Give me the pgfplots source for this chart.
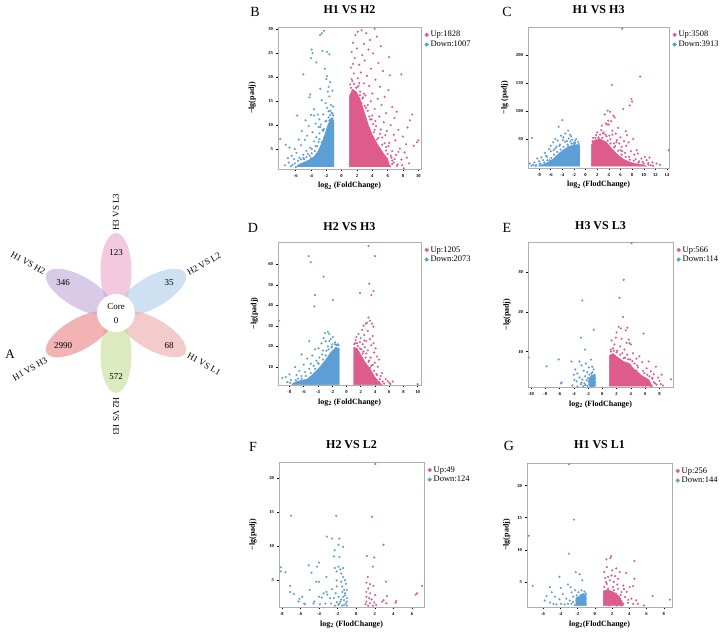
\documentclass[border=0pt]{standalone}
\usepackage{fontspec}
\setmainfont{Liberation Serif}
\usepackage{pgfplots}
\pgfplotsset{compat=1.18}
\definecolor{pinkc}{RGB}{221,92,140}
\definecolor{bluec}{RGB}{92,158,214}
\definecolor{axgray}{RGB}{175,175,175}
\definecolor{ptop}{RGB}{233,165,200}
\definecolor{pur}{RGB}{172,205,235}
\definecolor{plr}{RGB}{236,168,168}
\definecolor{pbot}{RGB}{195,222,148}
\definecolor{pll}{RGB}{232,128,128}
\definecolor{pul}{RGB}{192,168,216}
\pgfplotsset{
 volc/.style={scale only axis, axis line style={draw=axgray, line width=0.8pt},
  tick align=outside, xtick pos=bottom, ytick pos=left, major tick length=1.6pt,
  tick style={black,line width=0.4pt},
  tick label style={font=\fontsize{4.6}{5}\selectfont\bfseries},
  /pgf/number format/assume math mode=true,
  label style={font=\fontsize{8}{9}\selectfont\bfseries},
  xlabel style={at={(axis description cs:0.5,-0.12)}, anchor=center},
  title style={font=\fontsize{12}{14}\selectfont\bfseries, anchor=center, yshift=-6pt},
  legend style={draw=none, fill=none, at={(axis description cs:1.025,0.985)}, anchor=north west,
   inner sep=0pt, font=\fontsize{8.5}{9}\selectfont, row sep=-1.5pt},
  legend cell align=left,
  legend image code/.code={\draw[##1, mark size=1.9pt] plot coordinates {(0.1cm,0cm)};},
 },
 up/.style={only marks, mark=*, mark size=0.85pt, color=pinkc},
 dn/.style={only marks, mark=*, mark size=0.85pt, color=bluec},
 upa/.style={fill=pinkc, draw=pinkc, forget plot},
 dna/.style={fill=bluec, draw=bluec, forget plot},
}
\begin{document}
\begin{tikzpicture}
\path[use as bounding box] (0pt,0pt) rectangle (725pt,-633pt);
% ---------- A: flower ----------
\begin{axis}[hide axis, scale only axis, width=240pt, height=240pt, xmin=0, xmax=240, ymin=-440, ymax=-200,
  at={(0pt,-440pt)}, anchor=south west, clip=false]
\fill[ptop, fill opacity=0.6, shift={(axis cs:116,-313)}, rotate=90] (42pt,0pt) ellipse [x radius=38pt, y radius=15.5pt];
\fill[pur, fill opacity=0.6, shift={(axis cs:116,-313)}, rotate=30] (42pt,0pt) ellipse [x radius=38pt, y radius=15.5pt];
\fill[plr, fill opacity=0.6, shift={(axis cs:116,-313)}, rotate=-30] (42pt,0pt) ellipse [x radius=38pt, y radius=15.5pt];
\fill[pbot, fill opacity=0.6, shift={(axis cs:116,-313)}, rotate=-90] (42pt,0pt) ellipse [x radius=38pt, y radius=15.5pt];
\fill[pll, fill opacity=0.6, shift={(axis cs:116,-313)}, rotate=-150] (42pt,0pt) ellipse [x radius=38pt, y radius=15.5pt];
\fill[pul, fill opacity=0.6, shift={(axis cs:116,-313)}, rotate=150] (42pt,0pt) ellipse [x radius=38pt, y radius=15.5pt];
\fill[white] (axis cs:116,-313) circle [radius=19pt];
\begin{scope}[every node/.style={font=\fontsize{9}{10}\selectfont, inner sep=1pt}]
\node at (axis cs:116,-307) {Core};
\node at (axis cs:116,-321) {0};
\node at (axis cs:116,-253) {123};
\node at (axis cs:169,-283) {35};
\node at (axis cs:169,-346) {68};
\node at (axis cs:116,-377) {572};
\node at (axis cs:63,-346) {2990};
\node at (axis cs:63,-283) {346};
\node[rotate=90] at (axis cs:116,-212) {H3 VS L3};
\node[rotate=30] at (axis cs:204,-264) {H2 VS L2};
\node[rotate=-30] at (axis cs:204,-364) {H1 VS L1};
\node[rotate=-90] at (axis cs:116,-416) {H2 VS H3};
\node[rotate=30] at (axis cs:30,-369) {H1 VS H3};
\node[rotate=-30] at (axis cs:28,-263) {H1 VS H2};
\end{scope}
\end{axis}
\node[font=\fontsize{13}{15}\selectfont] at (10pt,-354pt) {A};
% ---------- panel letters ----------
\begin{scope}[every node/.style={font=\fontsize{14}{16}\selectfont}]
\node at (255pt,-12pt) {B};
\node at (507pt,-12pt) {C};
\node at (253pt,-228pt) {D};
\node at (507pt,-228pt) {E};
\node at (253pt,-447pt) {F};
\node at (509pt,-446pt) {G};
\end{scope}
% ---------- B ----------
\begin{axis}[volc, at={(278pt,-27pt)}, anchor=north west, width=143pt, height=142pt,
  xmin=-8.3, xmax=10.35, ymin=0.83, ymax=30.5, xtick={-6,-4,-2,0,2,4,6,8,10}, ytick={5,10,15,20,25,30},
  title={H1 VS H2}, title style={at={(axis description cs:0.5,1.123)}},
  xlabel={log\textsubscript{2} (FoldChange)}, ylabel={−lg(padj)},
  ylabel style={at={(axis description cs:-0.18,0.5)}, anchor=center}]
\addplot[dna] coordinates {(-1,1.3) (-1,11) (-1.4,11.5) (-1.8,10) (-2.2,8) (-2.6,6.2) (-3.1,4.5) (-3.6,3.4) (-4.3,2.7) (-5.0,2.2) (-5.6,1.8) (-5.9,1.3)} -- cycle;
\addplot[upa] coordinates {(1,1.3) (1,16) (1.4,17.5) (1.9,17) (2.4,15.5) (3,12.5) (3.5,10) (4,8) (4.5,6.5) (5,5.2) (5.5,4) (6,3) (6.3,1.3)} -- cycle;
\addplot[up] coordinates {(2.6,29.8) (4.3,30.1) (2.1,29.5) (3.2,29.2) (1.8,28.8) (4.6,28.5) (3.7,27.8) (1.5,27.2) (2.9,27.0) (5.1,26.5) (2.0,26.0) (3.5,25.8) (1.3,25.3) (4.1,25.0) (2.7,24.6) (6.2,24.2) (1.7,24.0) (3.0,23.5) (4.8,23.0) (2.3,22.6) (1.2,22.0) (3.8,21.8) (2.5,21.0) (5.4,21.3) (1.6,20.8) (7.8,20.6) (3.3,20.3) (6.3,20.4) (2.1,19.8) (4.4,19.5) (1.4,19.2) (2.9,18.7) (3.6,18.2) (5.0,18.0) (1.9,17.8) (6.1,17.3) (2.4,17.0) (4.0,16.6) (3.1,16.2) (5.6,15.9) (4.7,15.5) (3.8,15.0) (2.6,14.6) (5.2,14.2) (6.6,13.8) (4.3,13.4) (3.4,13.0) (7.2,12.8) (5.8,12.5) (9.2,12.2) (4.9,11.8) (6.9,11.5) (8.9,11.0) (3.9,11.2) (5.5,10.6) (6.4,10.0) (4.5,9.8) (8.6,9.5) (7.4,9.0) (5.9,8.8) (4.2,8.5) (6.8,8.0) (8.0,7.6) (5.3,7.4) (7.0,6.8) (9.8,6.4) (6.2,6.3) (8.4,6.0) (9.4,5.7) (5.8,5.4) (7.6,5.1) (6.6,4.6) (8.2,4.3) (7.1,3.8) (6.5,3.2) (7.8,2.8) (7.9,1.6) (6.8,2.2) (5.9,2.0) (6.3,1.4) (7.3,1.8) (8.1,1.0) (10.0,6.8) (4.6,7.0) (3.3,10.5) (2.0,12.8) (1.3,14.5) (2.8,15.8) (1.8,13.5) (3.6,11.8) (4.1,10.2) (5.0,8.2) (5.6,6.2) (2.4,16.3) (1.1,18.5) (2.2,18.2) (3.0,14.0) (1.5,22.8) (4.0,12.0) (6.0,4.0) (6.6,2.6) (5.4,3.4)
 (1.2,17.8) (1.6,18.6) (2.0,17.9) (2.7,15.6) (3.2,13.6) (3.7,11.2) (4.3,9.0) (4.8,7.3) (5.3,5.9) (5.8,4.7) (6.4,3.6) (6.9,2.9) (7.2,1.5) (6.6,1.9) (2.3,18.8) (1.3,19.6) (2.9,16.6) (3.4,14.2) (4.4,10.9) (5.1,9.1) (6.1,5.6) (7.4,4.4) (8.5,3.2) (8.8,2.0) (5.7,7.9)};
\addplot[dn] coordinates {(-2.3,29.7) (-2.6,29.2) (-2.8,28.8) (-3.9,25.8) (-2.5,25.5) (-1.9,25.3) (-1.6,24.8) (-3.8,25.0) (-3.3,23.1) (-4.0,24.0) (-2.2,21.8) (-5.0,20.6) (-1.9,20.2) (-2.0,19.6) (-1.5,19.0) (-1.7,18.0) (-2.8,17.6) (-1.2,17.2) (-1.8,17.0) (-4.1,16.4) (-4.2,15.8) (-1.6,16.0) (-2.6,15.2) (-2.1,14.6) (-1.4,14.2) (-1.9,13.6) (-1.1,13.9) (-3.6,13.3) (-1.5,13.0) (-1.3,12.6) (-2.4,12.2) (-3.1,12.2) (-4.0,12.1) (-5.8,12.0) (-3.6,12.0) (-1.7,11.6) (-2.9,11.2) (-1.2,11.4) (-4.7,11.0) (-2.1,10.8) (-3.4,10.3) (-2.7,10.1) (-4.3,9.8) (-3.0,9.6) (-1.8,9.7) (-2.3,9.2) (-5.2,8.8) (-3.8,8.5) (-2.9,8.3) (-4.5,7.8) (-3.3,7.5) (-5.6,7.0) (-4.8,6.9) (-3.6,6.6) (-8.0,7.1) (-7.3,5.9) (-6.8,5.3) (-6.1,5.0) (-5.3,5.8) (-4.1,5.3) (-4.6,4.6) (-5.9,4.2) (-6.5,3.6) (-7.0,3.1) (-5.0,3.8) (-4.2,3.6) (-6.2,2.9) (-6.9,2.2) (-5.7,2.5) (-6.4,1.7) (-7.4,1.6) (-5.2,1.4) (-6.0,1.2) (-3.9,5.0) (-3.2,5.6) (-2.6,6.4) (-2.0,8.2) (-1.4,9.5) (-1.1,10.3) (-1.6,11.0) (-2.4,8.8) (-3.0,6.5) (-4.4,4.0) (-4.9,2.9) (-5.5,3.2)
 (-1.2,12.4) (-1.5,12.1) (-2.0,10.9) (-2.5,9.0) (-2.9,7.1) (-3.4,5.6) (-3.9,4.1) (-4.6,3.3) (-5.3,2.8) (-6.1,2.0) (-6.6,1.4) (-1.3,10.8) (-1.9,9.1) (-2.3,7.4) (-3.5,4.6) (-4.0,3.1) (-5.0,3.1) (-1.1,12.0) (-1.7,12.9) (-2.8,9.6)};
\legend{Up:1828, Down:1007}
\end{axis}
% ---------- C ----------
\begin{axis}[volc, at={(528pt,-27pt)}, anchor=north west, width=141pt, height=141pt,
  xmin=-9.9, xmax=14.35, ymin=-2, ymax=251, xtick={-8,-6,-4,-2,0,2,4,6,8,10,12,14}, ytick={50,100,150,200},
  title={H1 VS H3}, title style={at={(axis description cs:0.5,1.12)}},
  xlabel={log\textsubscript{2} (FlodChange)}, ylabel={−lg (padj)},
  ylabel style={at={(axis description cs:-0.165,0.5)}, anchor=center}]
\addplot[dna] coordinates {(-1,1.3) (-1,38) (-1.5,40) (-2.5,38) (-3.5,33) (-4.5,25) (-5.5,15) (-6.5,8) (-7.5,4) (-8.2,1.3)} -- cycle;
\addplot[upa] coordinates {(1,1.3) (1,40) (1.5,48) (2.5,50) (3.5,45) (4.5,33) (5.5,22) (6.5,14) (7.5,9) (8.5,6) (10,3.5) (10.5,1.3)} -- cycle;
\addplot[up] coordinates {(6.3,248) (9.4,162) (4.5,147) (7.9,122) (8.0,117) (7.6,110) (6.5,104) (3.8,101) (4.2,99) (3.3,94) (4.8,92) (5.0,89) (3.9,83) (4.4,82) (3.5,78) (3.7,76) (4.0,76) (2.8,74) (5.6,70) (4.6,65) (6.9,64) (3.1,62) (5.2,60) (2.5,58) (7.1,57) (4.1,56) (6.0,53) (3.6,55) (8.2,50) (5.4,48) (6.6,46) (7.4,44) (2.2,53) (5.8,42) (7.0,38) (6.2,36) (8.8,30) (7.8,28) (9.0,24) (8.4,22) (10.2,18) (9.6,15) (11.0,17) (10.5,12) (9.2,10) (11.5,8) (12.2,6) (10.8,7) (14.3,30) (12.8,4) (3.0,60) (1.8,57) (1.3,52) (4.3,50) (5.1,37) (6.8,25) (7.5,18) (8.6,14) (9.8,9) (11.2,3) (9.0,4) (4.9,42) (6.3,28)
 (1.2,46) (1.7,52) (2.3,50) (2.9,52) (3.8,47) (4.3,42) (4.9,35) (5.6,29) (6.2,22) (6.9,18) (7.6,13) (8.3,11) (9.1,8) (10.0,6) (10.8,4) (11.6,2) (2.0,62) (2.7,66) (3.4,58) (4.6,58) (5.3,44) (6.0,30)};
\addplot[dn] coordinates {(-9.2,52) (-4.0,84) (-4.6,72) (-3.0,65) (-3.5,60) (-2.7,58) (-4.2,56) (-3.8,53) (-5.2,50) (-2.3,49) (-4.8,47) (-3.2,46) (-5.6,44) (-2.0,43) (-6.0,38) (-4.4,40) (-5.0,36) (-6.3,32) (-7.0,25) (-6.8,20) (-7.6,17) (-8.3,15) (-8.0,10) (-7.3,12) (-8.8,8) (-9.0,4) (-9.6,6) (-8.5,3) (-6.0,28) (-5.5,30) (-3.5,45) (-2.9,51) (-1.8,47) (-1.3,45) (-2.5,55) (-3.9,48) (-4.5,38) (-5.2,33) (-6.6,18) (-7.8,6) (-9.3,2) (-3.1,40) (-2.0,40) (-6.2,12)
 (-1.2,41) (-1.8,43) (-2.4,42) (-3.0,37) (-3.8,36) (-4.3,31) (-4.9,27) (-5.4,22) (-5.9,16) (-6.6,12) (-7.1,8) (-7.8,5) (-8.6,2) (-1.6,50) (-2.6,46)};
\legend{Up:3508, Down:3913}
\end{axis}
% ---------- D ----------
\begin{axis}[volc, at={(278pt,-242pt)}, anchor=north west, width=143pt, height=143pt,
  xmin=-9.6, xmax=10.47, ymin=1.1, ymax=70.9, xtick={-8,-6,-4,-2,0,2,4,6,8,10}, ytick={10,20,30,40,50,60},
  title={H2 VS H3}, title style={at={(axis description cs:0.5,1.105)}},
  xlabel={log\textsubscript{2} (FoldChange)}, ylabel={−lg(padj)},
  ylabel style={at={(axis description cs:-0.165,0.5)}, anchor=center}]
\addplot[dna] coordinates {(-1,1.3) (-1,19) (-1.5,19.5) (-2.2,17) (-3,13) (-3.7,10) (-4.5,7) (-5.5,4) (-6.8,3) (-7.5,2) (-7.6,1.3)} -- cycle;
\addplot[upa] coordinates {(1,1.3) (1,19.5) (1.5,19) (2,16) (2.5,13) (3,10.5) (3.5,8) (4,5) (4.5,3) (5,1.3)} -- cycle;
\addplot[up] coordinates {(3.1,69) (4.0,64) (3.2,50.5) (3.8,47) (1.9,46) (3.5,45) (3.1,34) (3.3,32.5) (2.9,31.5) (2.7,31) (3.6,31) (2.4,30) (3.8,29.5) (2.2,28) (3.0,27.5) (1.7,26) (2.5,25.5) (3.7,25) (1.4,24.5) (2.0,24) (3.3,23.5) (2.8,22.5) (1.9,22) (3.8,21.5) (2.3,21) (3.5,20.5) (1.6,20) (2.6,19.5) (4.1,19) (3.0,18) (3.9,17) (4.3,15) (2.8,16.5) (3.4,14.5) (4.6,13.5) (4.0,12) (3.7,11) (4.4,10) (5.0,7) (4.8,5.5) (5.5,4) (4.2,6.5) (5.8,3) (4.6,2.5) (5.3,1.8) (6.0,2.2) (6.5,2.8) (6.2,1.6) (10.0,1.5) (3.2,13) (2.1,18.5) (1.2,21.5) (2.4,17.5) (3.3,9.5)
 (1.1,21) (1.5,21.5) (1.9,19) (2.3,16.5) (2.7,14.5) (3.1,12.5) (3.5,10.5) (3.9,8) (4.3,6) (4.7,4) (5.1,2.8) (1.3,23) (2.5,22.8)};
\addplot[dn] coordinates {(-5.3,64) (-5.0,61) (-3.2,54) (-4.4,45) (-1.9,42.5) (-4.5,39.5) (-9.5,32.5) (-2.6,27) (-3.0,26.5) (-2.4,26) (-1.9,24.5) (-3.2,24) (-2.2,23.5) (-2.9,22.5) (-5.2,22.5) (-1.6,22) (-3.5,21.5) (-2.0,21) (-1.4,20.5) (-2.6,20) (-3.9,19) (-4.4,18.5) (-3.3,18) (-2.8,17.8) (-6.3,16) (-4.8,15.5) (-5.5,14) (-3.8,14.5) (-4.2,13) (-7.2,9.8) (-6.0,11) (-5.0,11.5) (-6.6,8) (-5.8,7.5) (-8.0,6.3) (-7.0,6) (-6.3,5.5) (-8.5,5) (-8.3,2.5) (-7.8,3.5) (-9.0,4.5) (-5.2,9) (-4.6,10.5) (-3.4,16) (-2.1,19.5) (-1.2,21) (-4.0,11.8) (-6.8,4.2)
 (-1.1,20.5) (-1.6,21) (-2.0,19.8) (-2.5,18.5) (-2.9,15.5) (-3.3,13.5) (-3.9,11.5) (-4.4,9) (-5.0,7) (-5.7,5.5) (-6.3,4.2) (-7.1,3.4) (-7.9,2.2) (-2.4,22.5)};
\legend{Up:1205, Down:2073}
\end{axis}
% ---------- E ----------
\begin{axis}[volc, at={(528pt,-242pt)}, anchor=north west, width=145pt, height=145pt,
  xmin=-10.4, xmax=9.9, ymin=1.1, ymax=37.5, xtick={-10,-8,-6,-4,-2,0,2,4,6,8}, ytick={10,20,30},
  title={H3 VS L3}, title style={at={(axis description cs:0.5,1.11)}},
  xlabel={log\textsubscript{2} (FlodChange)}, ylabel={−lg(padj)},
  ylabel style={at={(axis description cs:-0.145,0.5)}, anchor=center}]
\addplot[dna] coordinates {(-1.9,1.3) (-1.9,3.0) (-1.5,4.0) (-1,4.3) (-1,1.3)} -- cycle;
\addplot[upa] coordinates {(1,1.3) (1,9) (1.5,9.5) (2.2,8.5) (3,7.5) (3.8,7) (4.5,5.5) (5.5,4) (6.5,3) (7,1.3)} -- cycle;
\addplot[up] coordinates {(4.1,37.2) (3.0,28) (2.4,23.5) (2.9,18.7) (2.3,16.2) (3.5,16.0) (2.6,15.8) (3.3,15.3) (2.0,14.8) (5.8,14.5) (1.9,13.5) (2.7,13.2) (3.7,13.0) (1.3,12.8) (3.4,12.2) (3.8,12.1) (1.7,11.8) (2.5,11.3) (4.0,11.8) (1.5,10.8) (3.1,10.5) (2.1,10.2) (4.3,9.6) (3.5,9.2) (5.2,8.8) (4.8,8.2) (6.5,7.5) (5.6,7.3) (4.5,7.0) (7.5,6.2) (6.2,5.8) (5.0,6.0) (6.8,5.0) (7.2,4.3) (8.3,4.2) (5.9,4.6) (7.8,3.5) (6.6,3.8) (8.0,2.6) (7.2,2.3) (9.6,3.0) (8.5,1.5) (6.0,1.5) (7.6,1.7) (5.3,2.2) (6.9,1.3) (4.8,5.2) (3.9,8.0) (2.8,9.6) (1.2,10.0) (4.6,3.8) (5.5,3.0) (3.2,8.5) (6.3,2.4) (7.0,3.2) (5.0,4.5)
 (1.2,10.5) (1.6,10.2) (2.0,9.8) (2.5,9.2) (3.0,8.3) (3.6,8.1) (4.2,7.6) (4.9,6.5) (5.7,5.2) (6.3,4.2) (7.0,3.4) (7.4,2.0) (8.2,1.8)};
\addplot[dn] coordinates {(-2.8,22.8) (-1.2,15.5) (-3.0,13.5) (-2.4,10.5) (-10.3,8.5) (-6.1,8.0) (-7.8,6.3) (-4.3,7.5) (-3.2,7.5) (-2.3,7.0) (-1.6,8.0) (-2.9,6.5) (-1.9,6.0) (-1.4,6.2) (-3.8,5.5) (-2.6,5.2) (-1.2,5.5) (-3.5,4.5) (-2.1,4.8) (-1.5,4.5) (-4.0,4.2) (-1.8,4.2) (-1.1,4.0) (-2.4,3.8) (-3.2,3.5) (-1.3,3.6) (-1.7,3.4) (-2.8,3.0) (-1.0,3.2) (-1.5,3.0) (-2.2,2.8) (-3.6,2.5) (-1.2,2.6) (-1.9,2.4) (-5.7,2.2) (-5.8,2.0) (-2.5,2.0) (-1.4,2.1) (-1.1,1.9) (-3.0,1.8) (-1.7,1.7) (-4.2,1.5) (-2.1,1.4) (-1.3,1.3) (-2.7,1.3) (-1.6,1.2) (-3.5,1.2) (-1.0,1.5) (-1.8,2.8) (-1.2,3.0) (-2.0,3.3) (-1.5,3.8) (-1.0,2.3) (-1.3,1.7) (-2.4,1.6) (-1.7,2.2) (-1.1,3.6) (-2.9,2.2) (-1.4,4.8) (-3.9,2.9)};
\legend{Up:566, Down:114}
\end{axis}
% ---------- F ----------
\begin{axis}[volc, at={(279pt,-462pt)}, anchor=north west, width=145pt, height=145pt,
  xmin=-8.3, xmax=7.3, ymin=1.1, ymax=22.3, xtick={-8,-6,-4,-2,0,2,4,6}, ytick={5,10,15,20},
  title={H2 VS L2}, title style={at={(axis description cs:0.5,1.117)}},
  xlabel={log\textsubscript{2} (FlodChange)}, ylabel={−lg(padj)},
  ylabel style={at={(axis description cs:-0.18,0.5)}, anchor=center}]
\addplot[up] coordinates {(2.05,22.0) (1.7,14.3) (2.95,10.2) (1.15,8.55) (1.95,8.35) (1.8,7.0) (1.25,5.5) (1.1,4.65) (1.5,4.45) (3.2,4.8) (1.3,3.8) (1.85,4.2) (1.1,3.3) (1.5,3.1) (2.05,2.85) (1.1,2.6) (1.65,2.2) (3.3,2.7) (2.95,2.1) (3.25,1.65) (4.3,2.0) (4.25,1.75) (1.1,1.9) (1.5,1.65) (1.95,1.75) (1.3,1.3) (1.8,1.3) (2.15,1.4) (1.0,1.5) (6.4,2.9) (6.55,3.1) (7.1,4.2) (2.8,1.9) (1.4,2.4)};
\addplot[dn] coordinates {(-7.0,14.45) (-2.15,14.45) (-3.15,11.4) (-2.6,11.1) (-1.8,11.1) (-1.9,10.2) (-1.4,9.9) (-2.3,9.4) (-2.4,8.5) (-1.8,8.4) (-8.1,6.9) (-8.1,6.3) (-7.6,6.2) (-5.1,7.2) (-4.2,7.0) (-4.0,7.6) (-4.8,6.1) (-2.3,6.8) (-1.9,7.0) (-1.7,6.6) (-1.4,6.8) (-2.1,6.3) (-1.6,6.0) (-3.2,5.5) (-1.4,5.5) (-2.1,5.0) (-1.6,4.8) (-1.2,5.0) (-4.3,4.8) (-4.0,4.8) (-5.0,3.6) (-7.1,4.2) (-7.1,3.3) (-6.7,3.0) (-5.8,2.6) (-6.1,2.3) (-6.2,1.9) (-5.6,1.6) (-5.5,1.5) (-4.6,1.6) (-4.5,1.9) (-3.9,1.5) (-3.7,2.5) (-3.5,3.1) (-3.2,3.3) (-3.1,2.9) (-2.6,3.7) (-2.8,2.4) (-2.7,1.6) (-2.4,2.4) (-3.3,1.6) (-2.2,3.1) (-2.1,4.1) (-1.9,2.6) (-1.7,1.9) (-1.5,3.3) (-1.4,2.6) (-1.3,2.1) (-1.2,3.1) (-1.1,1.6) (-1.0,3.6) (-1.9,1.4) (-1.5,1.3) (-1.3,1.4) (-2.1,1.8) (-2.3,1.3) (-1.0,2.4) (-1.1,4.5) (-1.5,4.1) (-4.0,2.6) (-1.2,2.8) (-1.0,1.9) (-1.3,3.6) (-1.6,2.2) (-1.8,1.6) (-1.0,1.3)};
\legend{Up:49, Down:124}
\end{axis}
% ---------- G ----------
\begin{axis}[volc, at={(527pt,-463pt)}, anchor=north west, width=145pt, height=144pt,
  xmin=-7.86, xmax=8.96, ymin=1.1, ymax=23.5, xtick={-6,-4,-2,0,2,4,6,8}, ytick={5,10,15,20},
  title={H1 VS L1}, title style={at={(axis description cs:0.5,1.13)}},
  xlabel={log\textsubscript{2}(FlodChange)}, ylabel={−lg(padj)},
  ylabel style={at={(axis description cs:-0.14,0.5)}, anchor=center}]
\addplot[dna] coordinates {(-2.2,1.3) (-2.2,2.5) (-1.6,2.9) (-1,3.1) (-1,1.3)} -- cycle;
\addplot[upa] coordinates {(1,1.3) (1,3.6) (1.5,3.8) (2.2,3.4) (2.8,2.8) (3.2,1.9) (3.3,1.3)} -- cycle;
\addplot[up] coordinates {(1.35,8.5) (1.8,8.7) (1.9,9.0) (4.6,8.25) (1.4,7.3) (2.0,6.8) (2.5,7.1) (1.1,6.55) (3.65,6.4) (2.9,6.55) (1.55,5.8) (1.95,6.0) (4.6,5.5) (1.3,5.0) (1.75,5.25) (2.2,5.0) (2.7,5.5) (3.3,4.45) (4.05,4.2) (4.45,4.35) (1.1,4.2) (1.55,3.95) (2.1,4.2) (2.7,3.95) (3.1,3.45) (3.7,3.45) (1.15,3.45) (1.75,3.3) (2.45,3.2) (1.3,2.65) (1.95,2.75) (2.5,2.65) (2.9,2.4) (3.5,2.65) (4.25,2.4) (4.8,2.15) (5.0,1.6) (1.05,2.15) (1.4,1.9) (1.8,2.15) (2.3,1.9) (2.8,1.75) (3.3,1.6) (3.85,1.75) (1.15,1.5) (1.65,1.35) (2.1,1.5) (2.55,1.35) (3.1,1.35) (4.45,1.6) (5.7,1.35) (6.7,2.8) (8.7,2.25) (1.35,3.1) (2.2,3.7) (1.4,4.7) (3.9,2.2) (2.6,4.6) (3.0,3.0) (1.2,5.6) (2.35,5.9) (3.4,3.9)};
\addplot[dn] coordinates {(-2.98,23.3) (-2.4,14.7) (-7.66,12.2) (-3.0,9.4) (-2.2,6.5) (-1.75,6.2) (-1.45,5.25) (-4.1,5.8) (-7.2,4.4) (-3.1,4.6) (-2.8,4.2) (-5.2,4.2) (-3.95,4.05) (-5.0,3.4) (-5.6,2.8) (-5.8,2.1) (-5.2,1.8) (-4.8,1.6) (-4.6,2.7) (-4.1,2.3) (-3.7,3.1) (-3.5,1.5) (-3.3,2.4) (-2.9,2.1) (-2.5,2.7) (-2.7,3.4) (-2.3,3.7) (-1.9,3.4) (-1.55,3.7) (-1.36,3.1) (-2.1,2.9) (-1.75,2.7) (-1.2,2.55) (-2.5,1.9) (-2.1,2.1) (-1.55,2.25) (-1.8,1.6) (-1.3,1.9) (-2.3,1.4) (-2.7,1.6) (-1.9,1.4) (-1.4,1.4) (-1.05,1.6) (-1.05,3.2) (-1.05,2.4) (-3.1,1.6) (-4.45,1.5) (-3.9,1.6) (-1.2,3.5) (-1.6,3.0) (-2.0,2.4)};
\legend{Up:256, Down:144}
\end{axis}
\end{tikzpicture}
\end{document}
